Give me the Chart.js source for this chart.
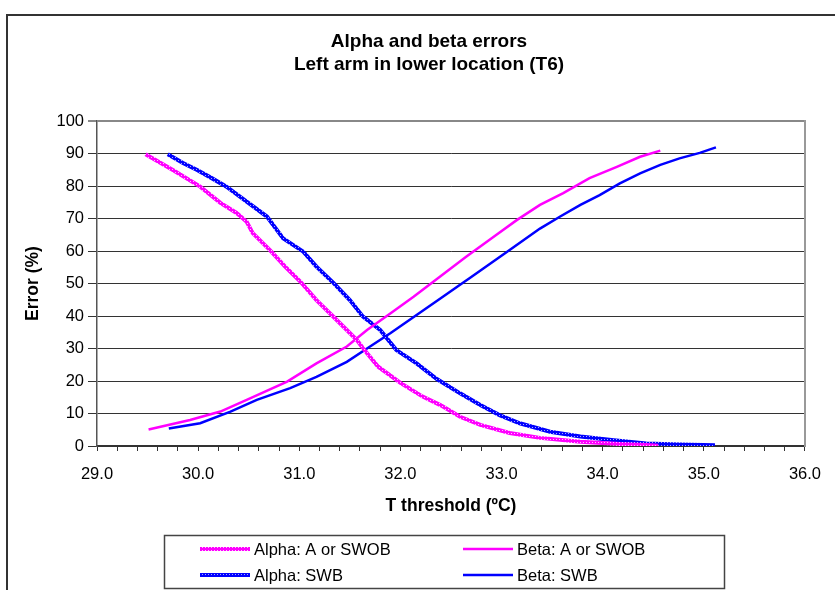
<!DOCTYPE html>
<html>
<head>
<meta charset="utf-8">
<title>Alpha and beta errors</title>
<script src="https://cdn.jsdelivr.net/npm/chart.js@4/dist/chart.umd.min.js"></script>
<style>
  html, body { margin: 0; padding: 0; background: #fff; }
  canvas { display: block; }
</style>
</head>
<body>
<canvas id="errorChart" width="835" height="590"></canvas>
<script>
// values
const seriesNames = ["Alpha: A or SWOB", "Beta: A or SWOB", "Alpha: SWB", "Beta: SWB"];

const alphaAT = [29.48, 29.75, 30.02, 30.22, 30.38, 30.48, 30.54, 30.71, 30.86, 31.01, 31.17, 31.32, 31.47, 31.57, 31.63, 31.78, 32.00, 32.22, 32.40, 32.59, 32.79, 33.08, 33.38, 33.78, 34.17, 34.43, 34.55];
const alphaAErr = [89.8, 84.9, 79.8, 74.8, 71.7, 69.0, 65.5, 60.3, 55.2, 50.6, 44.9, 40.3, 35.7, 32.6, 30.1, 24.4, 19.4, 15.2, 12.5, 9.0, 6.5, 4.0, 2.5, 1.3, 0.6, 0.3, 0.1];

const betaAT = [29.51, 29.92, 30.22, 30.48, 30.88, 31.17, 31.47, 31.67, 31.90, 32.13, 32.39, 32.65, 32.95, 33.15, 33.38, 33.61, 33.87, 34.14, 34.37, 34.57];
const betaAErr = [5.1, 8.0, 10.6, 14.2, 19.8, 25.4, 30.6, 35.7, 40.8, 45.9, 52.1, 58.2, 65.0, 69.5, 74.2, 77.8, 82.4, 85.9, 89.0, 90.9];

const alphaSWBT = [29.70, 29.85, 29.99, 30.13, 30.28, 30.48, 30.68, 30.84, 31.04, 31.17, 31.34, 31.50, 31.63, 31.80, 31.96, 32.16, 32.36, 32.59, 32.79, 32.98, 33.18, 33.48, 33.78, 34.11, 34.43, 34.76, 35.11];
const alphaSWBErr = [89.8, 87.1, 84.9, 82.5, 79.8, 75.2, 70.6, 63.9, 59.8, 55.2, 50.1, 44.9, 39.8, 35.7, 29.5, 25.4, 20.6, 16.2, 12.6, 9.5, 7.0, 4.4, 2.9, 1.8, 0.8, 0.5, 0.2];

const betaSWBT = [29.71, 30.02, 30.32, 30.58, 30.91, 31.17, 31.47, 31.70, 31.90, 32.16, 32.42, 32.59, 32.69, 32.82, 33.08, 33.38, 33.58, 33.78, 33.97, 34.17, 34.37, 34.57, 34.76, 34.96, 35.12];
const betaSWBErr = [5.4, 7.0, 10.6, 14.2, 17.8, 21.3, 25.9, 30.6, 34.7, 40.3, 45.9, 49.6, 51.8, 54.6, 60.3, 66.9, 70.6, 74.2, 77.2, 80.8, 83.9, 86.5, 88.5, 90.2, 91.9];

const xTicks = { min: 29, max: 36, step: 0.2 };
const yTicks = { min: 0, max: 100, step: 10 };

const FONT = "'Liberation Sans', Arial, Helvetica, sans-serif";

function toPoints(xs, ys) {
  return xs.map((x, i) => ({ x: x, y: ys[i] }));
}

// small checked texture for the "Alpha" lines
function hatch(base, light) {
  const c = document.createElement("canvas");
  c.width = 3;
  c.height = 3;
  const g = c.getContext("2d");
  g.fillStyle = base;
  g.fillRect(0, 0, 3, 3);
  g.fillStyle = light;
  g.fillRect(1, 1, 1, 1);
  return g.createPattern(c, "repeat");
}

const frame = {
  id: "frame",
  beforeDraw(chart) {
    const ctx = chart.ctx;
    ctx.save();
    ctx.fillStyle = "#fff";
    ctx.fillRect(0, 0, chart.width, chart.height);
    ctx.strokeStyle = "#333";
    ctx.lineWidth = 2;
    ctx.strokeRect(7, 15, 900, 700);
    ctx.restore();
  }
};

// legend drawn as a 2x2 grid inside a box, like the original
const boxLegend = {
  id: "boxLegend",
  afterDraw(chart) {
    const ctx = chart.ctx;
    const cols = [200, 463];
    const rows = [549, 575];
    ctx.save();
    ctx.strokeStyle = "#444";
    ctx.lineWidth = 1.5;
    ctx.strokeRect(164.5, 535.5, 560, 53);
    ctx.font = "16.5px " + FONT;
    ctx.textBaseline = "middle";
    ctx.fillStyle = "#000";
    chart.data.datasets.forEach((ds, i) => {
      const x = cols[i % 2];
      const y = rows[Math.floor(i / 2)];
      ctx.strokeStyle = ds.borderColor;
      ctx.lineWidth = ds.borderWidth;
      ctx.beginPath();
      ctx.moveTo(x, y);
      ctx.lineTo(x + 50, y);
      ctx.stroke();
      ctx.fillText(ds.label, x + 54, y + 1);
    });
    ctx.restore();
  }
};

document.addEventListener("DOMContentLoaded", () => {
  const magentaHatch = hatch("#ff00ff", "#ffc0ff");
  const blueHatch = hatch("#0000ff", "#a8a8ff");

  new Chart(document.getElementById("errorChart"), {
    type: "line",
    data: {
      datasets: [
        { label: seriesNames[0], data: toPoints(alphaAT, alphaAErr), borderColor: magentaHatch, borderWidth: 4 },
        { label: seriesNames[1], data: toPoints(betaAT, betaAErr), borderColor: "#ff00ff", borderWidth: 2.5 },
        { label: seriesNames[2], data: toPoints(alphaSWBT, alphaSWBErr), borderColor: blueHatch, borderWidth: 4 },
        { label: seriesNames[3], data: toPoints(betaSWBT, betaSWBErr), borderColor: "#0000ff", borderWidth: 2.5 }
      ]
    },
    options: {
      responsive: false,
      devicePixelRatio: 1,
      animation: false,
      elements: {
        point: { radius: 0 },
        line: { tension: 0, fill: false }
      },
      layout: { padding: { left: 23, right: 0, top: 0, bottom: 70 } },
      plugins: {
        legend: { display: false },
        tooltip: { enabled: false },
        title: {
          display: true,
          text: ["Alpha and beta errors", "Left arm in lower location (T6)"],
          color: "#000",
          font: { family: FONT, size: 19, weight: "bold", lineHeight: "23px" },
          padding: { top: 30.5, bottom: 44.5 }
        }
      },
      scales: {
        x: {
          type: "linear",
          min: xTicks.min,
          max: xTicks.max,
          afterFit: s => { s.height = 74; },
          ticks: {
            stepSize: xTicks.step,
            autoSkip: false,
            maxRotation: 0,
            padding: 14,
            color: "#000",
            font: { family: FONT, size: 16.5 },
            callback: v => Math.abs(v - Math.round(v)) < 1e-6 ? Number(v).toFixed(1) : ""
          },
          grid: { drawOnChartArea: false, drawTicks: true, tickLength: 5, color: "#333" },
          border: { color: "#333", width: 1.5 },
          title: {
            display: true,
            text: "T threshold (ºC)",
            color: "#000",
            font: { family: FONT, size: 17.5, weight: "bold" },
            padding: { top: 0, bottom: 3 }
          }
        },
        y: {
          min: yTicks.min,
          max: yTicks.max,
          afterFit: s => { s.width = 74; },
          ticks: {
            stepSize: yTicks.step,
            padding: 4,
            color: "#000",
            font: { family: FONT, size: 16.5 }
          },
          grid: {
            color: c => c.tick && c.tick.value === 100 ? "#888" : "#333",
            lineWidth: c => c.tick && c.tick.value === 100 ? 2 : 1,
            tickLength: 9
          },
          border: { color: "#555", width: 1.5 },
          title: {
            display: true,
            text: "Error (%)",
            color: "#000",
            font: { family: FONT, size: 17.5, weight: "bold" },
            padding: { top: 0, bottom: 0 }
          }
        },
        yRight: {
          position: "right",
          afterFit: s => { s.width = 30; },
          ticks: { display: false },
          grid: { display: false },
          border: { display: true, color: "#999", width: 2 }
        }
      }
    },
    plugins: [frame, boxLegend]
  });
});
</script>
</body>
</html>
